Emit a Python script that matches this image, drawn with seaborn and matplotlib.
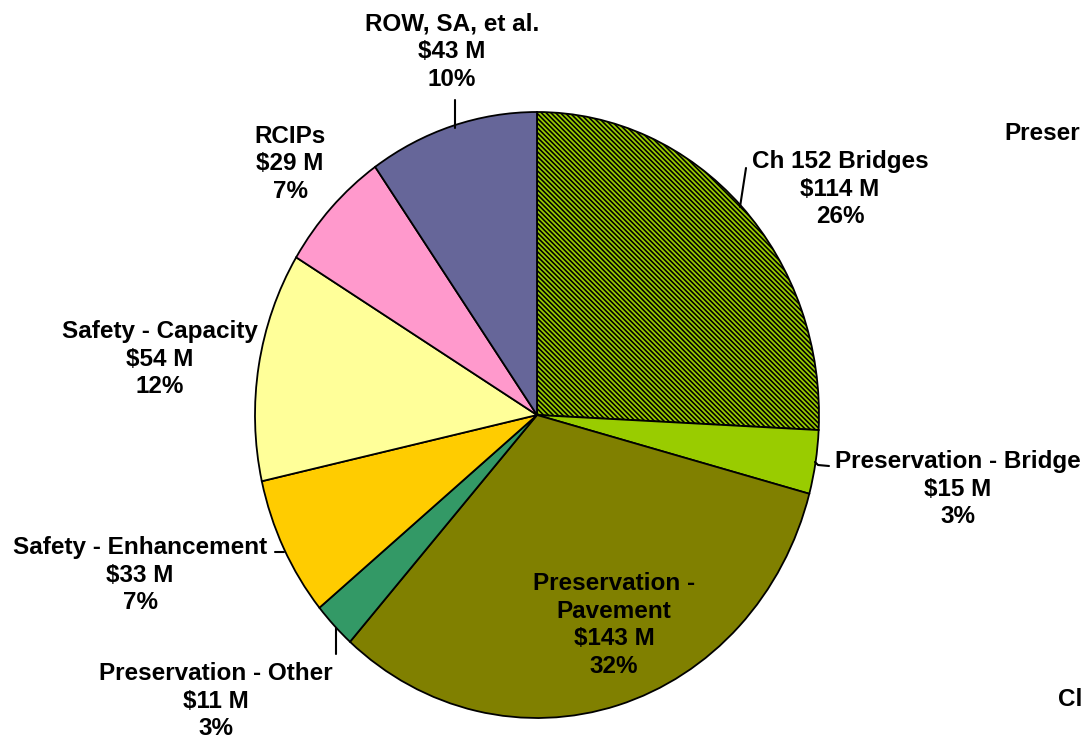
import matplotlib
matplotlib.use("Agg")
import matplotlib.pyplot as plt
from matplotlib.lines import Line2D
import seaborn as sns

# ---- data ----
categories = ["Ch 152 Bridges", "Preservation - Bridge", "Preservation - Pavement",
              "Preservation - Other", "Safety - Enhancement", "Safety - Capacity",
              "RCIPs", "ROW, SA, et al."]
values_musd = [114, 15, 143, 11, 33, 54, 29, 43]
percents = [26, 3, 32, 3, 7, 12, 7, 10]
label_names = ["Ch 152 Bridges", "Preservation - Bridge", "Preservation -\nPavement",
               "Preservation - Other", "Safety - Enhancement", "Safety - Capacity",
               "RCIPs", "ROW, SA, et al."]
edge_texts = ["Preser", "Cl"]

colors = ["#99CC00", "#99CC00", "#808000", "#339966", "#FFCC00", "#FFFF99",
          "#FF99CC", "#666699"]

sns.set_theme(style="white")
plt.rcParams['font.family'] = ['Liberation Sans', 'DejaVu Sans']
plt.rcParams['text.color'] = 'black'
plt.rcParams['hatch.linewidth'] = 1.15
plt.rcParams['hatch.color'] = 'black'

W, H = 1084, 747
fig = plt.figure(figsize=(W / 100, H / 100), dpi=100)
fig.patch.set_facecolor("white")

cx, cy, rx, ry = 537, 415, 282, 303
ax = fig.add_axes([(cx - rx) / W, (H - cy - ry) / H, 2 * rx / W, 2 * ry / H])
wedges, _ = ax.pie(values_musd, colors=colors, startangle=90, counterclock=False,
                   wedgeprops=dict(edgecolor="black", linewidth=1.3))
wedges[0].set_hatch("\\" * 7)
ax.set_aspect("auto")
ax.set_xlim(-1, 1)
ax.set_ylim(-1, 1)
ax.axis("off")

# label positions in pixels (center of text block)
label_pos = [(840, 189), (958, 489), (614, 625), (216, 701), (140, 575),
             (160, 359), (290, 164), (452, 52)]

for name, v, p, (x, y) in zip(label_names, values_musd, percents, label_pos):
    fig.text(x / W, 1 - y / H, f"{name}\n${v} M\n{p}%", ha="center", va="center",
             fontsize=17.5, fontweight="bold", linespacing=1.25, color="black")

# leader lines (pixel coords)
leaders = [
    [(746, 168), (740, 207)],
    [(815, 462), (818, 465), (829, 466)],
    [(336, 628), (336, 654)],
    [(275, 552), (284, 552)],
    [(455, 100), (455, 128)],
]
for pts in leaders:
    xs = [p[0] / W for p in pts]
    ys = [1 - p[1] / H for p in pts]
    fig.add_artist(Line2D(xs, ys, color="black", linewidth=1.5))

# partially visible text of neighbouring chart at right edge
fig.text(1004 / W, 1 - 133 / H, edge_texts[0], ha="left", va="center",
         fontsize=17.5, fontweight="bold", color="black")
fig.text(1058 / W, 1 - 700 / H, edge_texts[1], ha="left", va="center",
         fontsize=17.5, fontweight="bold", color="black")

fig.savefig("out.png", dpi=100, facecolor="white")
